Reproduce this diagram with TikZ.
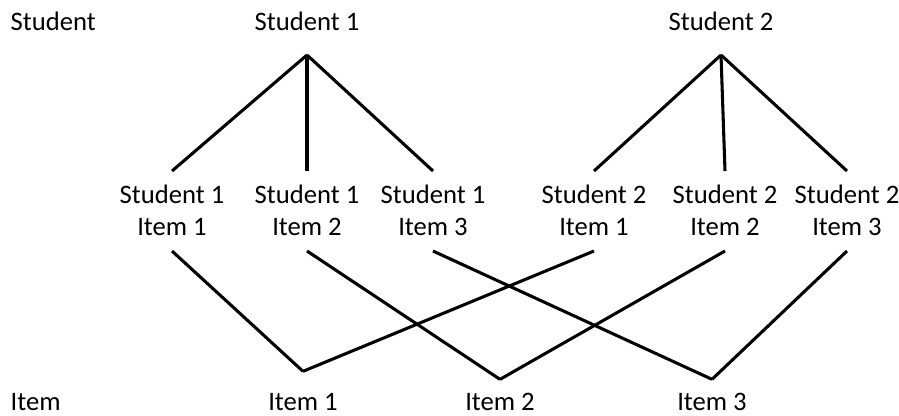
\documentclass[tikz,border=0pt]{standalone}
\usepackage{fontspec}
\setmainfont{Carlito}
\begin{document}
\begin{tikzpicture}[x=0.75pt, y=-0.75pt,
	txt/.style={font=\fontsize{20}{24}\selectfont, inner xsep=2pt, outer sep=0pt,
		text height=12pt, text depth=0pt, anchor=base},
	root/.style={txt, inner ysep=18.75pt},
	pair/.style={txt, align=center, text height=36pt, inner ysep=12pt},
	item/.style={txt, inner ysep=11pt},
	edge/.style={line width=2.3pt}]
	\useasboundingbox (0,0) rectangle (899,415);
	% niveles (etiquetas a la izquierda)
	\node[txt, anchor=base west] (lvlstudent) at (8,30) {Student};
	\node[txt, anchor=base west] (lvlitem) at (8,410) {Item};
	% estudiantes
	\node[root] (s1) at (307,30) {Student 1};
	\node[root] (s2) at (721,30) {Student 2};
	% pares estudiante-item (base = segunda linea)
	\foreach \n/\x/\s/\i in {m11/172/1/1, m12/307/1/2, m13/433/1/3,
		m21/594/2/1, m22/725/2/2, m23/847/2/3}{
		\node[pair] (\n) at (\x,235) {Student \s\\Item \i};
	}
	% items
	\node[item, inner ysep=17pt] (i1) at (303,410) {Item 1};
	\node[item] (i2) at (500,410) {Item 2};
	\node[item] (i3) at (712,410) {Item 3};
	% conexiones
	\foreach \c in {m11,m12,m13}
		\draw[edge] (s1.south) -- (\c.north);
	\foreach \c in {m21,m22,m23}
		\draw[edge] (s2.south) -- (\c.north);
	\foreach \a/\b in {m11/i1, m12/i2, m13/i3, m21/i1, m22/i2, m23/i3}
		\draw[edge] (\a.south) -- (\b.north);
\end{tikzpicture}
\end{document}
